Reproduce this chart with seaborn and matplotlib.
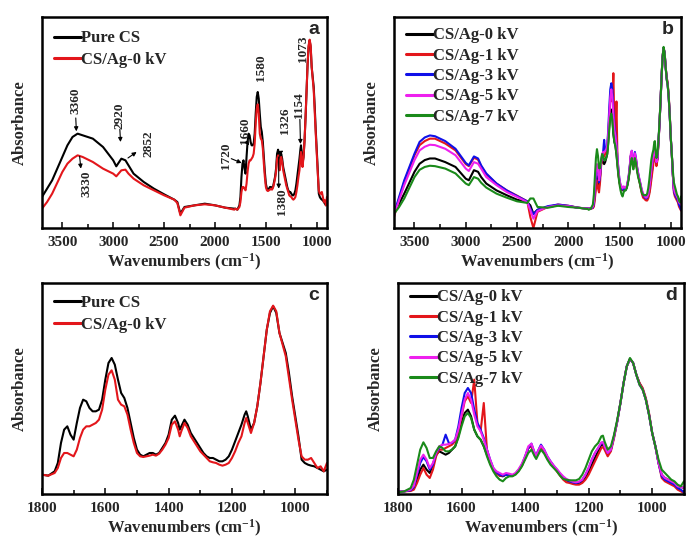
import matplotlib
matplotlib.use("Agg")
import matplotlib.pyplot as plt
import pandas as pd
import seaborn as sns
from matplotlib.ticker import MultipleLocator, NullLocator

# ---------------- data (arbitrary absorbance units) ----------------
HI_WN = [3700, 3650, 3600, 3500, 3450, 3400, 3350, 3300, 3200, 3100, 3000, 2970, 2920,
         2880, 2850, 2800, 2700, 2600, 2500, 2400, 2370, 2340, 2300, 2200, 2100, 2000,
         1900, 1810]
FP_WN = [1800, 1780, 1760, 1750, 1740, 1730, 1720, 1710, 1700, 1690, 1680, 1670, 1660,
         1650, 1640, 1630, 1620, 1610, 1600, 1590, 1580, 1570, 1560, 1550, 1540, 1530,
         1520, 1510, 1500, 1490, 1480, 1470, 1460, 1450, 1440, 1430, 1420, 1410, 1400,
         1390, 1380, 1370, 1365, 1360, 1350, 1340, 1330, 1320, 1310, 1300, 1290, 1280,
         1270, 1260, 1250, 1240, 1230, 1220, 1210, 1200, 1190, 1180, 1170, 1160, 1155,
         1150, 1140, 1130, 1120, 1110, 1100, 1090, 1080, 1070, 1060, 1050, 1040, 1030,
         1020, 1010, 1000, 990, 980, 970, 960, 950, 940, 930, 920, 910, 900]

# panels a / c
PURE_CS_HI = [93, 118, 143, 213, 248, 273, 283, 278, 268, 243, 203, 185, 208, 203, 188,
              163, 138, 118, 101, 85, 78, 43, 63, 68, 73, 68, 61, 58]
PURE_CS_FP = [58, 55, 68, 93, 153, 193, 203, 178, 163, 213, 258, 283, 278, 258, 248, 248,
              253, 283, 343, 393, 408, 388, 343, 303, 288, 258, 213, 168, 133, 118, 113,
              118, 123, 123, 118, 123, 138, 153, 178, 223, 235, 213, 193, 203, 223, 208,
              183, 168, 153, 138, 123, 113, 108, 108, 103, 98, 98, 103, 113, 133, 158,
              183, 208, 238, 248, 233, 193, 213, 263, 333, 413, 493, 543, 563, 543, 483,
              453, 423, 363, 293, 233, 173, 103, 93, 88, 85, 83, 78, 73, 68, 73]
AG0_A_HI = [58, 78, 103, 168, 193, 208, 218, 213, 198, 178, 163, 155, 173, 175, 163, 148,
            128, 113, 98, 85, 75, 38, 61, 68, 71, 68, 61, 55]
AG0_A_FP = [58, 55, 63, 78, 108, 123, 123, 118, 113, 133, 168, 193, 203, 203, 208, 213,
            223, 253, 313, 358, 371, 343, 283, 268, 263, 238, 193, 153, 123, 113, 111,
            113, 115, 118, 115, 121, 133, 148, 168, 208, 218, 193, 173, 188, 213, 198,
            173, 158, 143, 128, 118, 108, 98, 95, 93, 88, 85, 88, 93, 108, 128, 153,
            173, 213, 228, 213, 183, 213, 263, 333, 413, 493, 548, 565, 548, 483, 448,
            413, 348, 283, 223, 163, 113, 103, 103, 108, 93, 78, 83, 68, 93]

# panels b / d
AG0_HI = [0, 20, 45, 99, 119, 128, 132, 132, 123, 111, 82, 78, 103, 99, 86, 70, 53, 41,
          30, 24, 16, -5, 5, 12, 16, 14, 10, 8]
AG1_HI = [-13, 33, 74, 140, 165, 175, 181, 181, 169, 152, 118, 113, 134, 129, 113, 93,
          70, 53, 40, 26, -13, -40, 0, 12, 18, 15, 10, 8]
AG3_HI = [-5, 37, 78, 144, 173, 184, 189, 187, 175, 156, 121, 115, 137, 132, 115, 95, 70,
          53, 39, 26, 8, -6, 5, 14, 18, 15, 10, 8]
AG5_HI = [-9, 29, 66, 128, 152, 161, 166, 165, 156, 140, 107, 101, 123, 119, 107, 86, 66,
          49, 37, 24, 4, -17, 2, 12, 16, 14, 10, 8]
AG7_HI = [-5, 12, 33, 86, 104, 111, 114, 113, 107, 95, 70, 66, 86, 82, 72, 60, 45, 35,
          26, 22, 33, 33, 12, 10, 15, 12, 10, 7]

AG0_FP = [8, 8, 11, 18, 43, 73, 88, 73, 63, 88, 118, 128, 123, 118, 123, 133, 143, 173,
          213, 243, 253, 233, 193, 173, 163, 143, 118, 93, 73, 63, 55, 53, 58, 55, 55,
          61, 71, 85, 108, 138, 143, 118, 111, 123, 138, 128, 108, 93, 81, 71, 58, 48,
          41, 38, 35, 33, 33, 38, 48, 68, 88, 108, 128, 148, 148, 138, 118, 133, 173,
          218, 273, 333, 383, 405, 393, 358, 333, 315, 283, 238, 183, 143, 93, 58, 48,
          43, 38, 33, 23, 21, 18]
AG1_FP = [8, 8, 9, 13, 33, 58, 78, 58, 48, 73, 113, 133, 133, 138, 143, 148, 158, 188,
          233, 278, 293, 273, 343, 213, 188, 273, 133, 93, 73, 61, 55, 55, 58, 58, 55,
          61, 71, 85, 108, 138, 143, 118, 111, 123, 138, 128, 108, 93, 81, 68, 55, 43,
          35, 33, 30, 28, 28, 33, 43, 58, 78, 98, 118, 138, 141, 133, 113, 128, 168, 218,
          273, 333, 383, 405, 393, 358, 333, 318, 288, 243, 183, 143, 93, 48, 38, 33,
          28, 23, 13, 8, 3]
AG3_FP = [8, 8, 11, 21, 58, 93, 111, 98, 73, 88, 123, 138, 148, 178, 153, 153, 163, 203,
          258, 303, 318, 303, 253, 213, 193, 168, 133, 103, 78, 65, 58, 55, 58, 55, 55,
          61, 73, 88, 113, 138, 151, 123, 115, 128, 148, 133, 113, 98, 85, 73, 61, 50,
          43, 38, 35, 33, 35, 43, 58, 78, 103, 123, 138, 153, 155, 143, 123, 133, 173,
          218, 273, 333, 383, 405, 393, 358, 328, 313, 283, 238, 183, 143, 93, 53, 43,
          38, 33, 28, 18, 13, 5]
AG5_FP = [8, 8, 13, 25, 63, 103, 118, 103, 78, 93, 123, 143, 148, 148, 150, 155, 163,
          193, 238, 283, 303, 283, 238, 203, 188, 163, 133, 103, 78, 68, 63, 58, 63, 61,
          58, 63, 75, 91, 113, 143, 151, 123, 113, 128, 145, 133, 113, 98, 85, 75, 63,
          53, 45, 41, 37, 35, 37, 43, 58, 78, 103, 123, 138, 155, 155, 143, 123, 133,
          173, 218, 273, 333, 383, 405, 393, 358, 328, 313, 283, 238, 183, 143, 93, 58,
          48, 43, 38, 33, 23, 21, 18]
AG7_FP = [5, 8, 18, 43, 88, 133, 155, 138, 108, 108, 128, 143, 138, 128, 128, 133, 143,
          168, 203, 233, 243, 228, 193, 173, 163, 143, 113, 88, 68, 53, 43, 38, 48, 53,
          53, 58, 68, 83, 103, 123, 133, 113, 105, 115, 133, 121, 103, 88, 78, 68, 55,
          45, 43, 41, 41, 41, 45, 58, 78, 103, 128, 143, 153, 173, 175, 158, 133, 143,
          178, 223, 273, 333, 383, 408, 393, 358, 328, 313, 283, 238, 183, 143, 103, 73,
          63, 53, 43, 38, 28, 23, 38]

LABELS_AC = ["Pure CS", "CS/Ag-0 kV"]
LABELS_BD = ["CS/Ag-0 kV", "CS/Ag-1 kV", "CS/Ag-3 kV", "CS/Ag-5 kV", "CS/Ag-7 kV"]
COLORS_AC = ["#000000", "#e3161b"]
COLORS_BD = ["#000000", "#e3161b", "#1010e8", "#ee20ee", "#1a8a1a"]

# peak annotations of panel a: label, text position, arrow (tail, head) or None
PEAKS_A = [
    ("3360", (3372, 383), ((3368, 330), (3362, 290))),
    ("2920", (2935, 336), ((2935, 296), (2928, 258))),
    ("2852", (2650, 253), ((2855, 210), (2770, 228))),
    ("3330", (3262, 133), ((3330, 215), (3318, 178))),
    ("1720", (1890, 216), ((1840, 208), (1738, 195))),
    ("1660", (1702, 293), ((1688, 258), (1664, 248))),
    ("1580", (1546, 481), None),
    ("1326", (1316, 321), ((1368, 225), (1328, 232))),
    ("1380", (1346, 78), ((1374, 213), (1374, 118))),
    ("1154", (1170, 368), ((1166, 326), (1160, 252))),
    ("1073", (1137, 538), None),
]

# ---------------- style ----------------
sns.set_theme(style="ticks")
plt.rcParams["font.family"] = ["Liberation Serif", "DejaVu Serif"]
plt.rcParams["font.weight"] = "bold"
plt.rcParams["mathtext.fontset"] = "custom"
plt.rcParams["mathtext.rm"] = "Liberation Serif:bold"
plt.rcParams["mathtext.bf"] = "Liberation Serif:bold"
plt.rcParams["mathtext.it"] = "Liberation Serif:bold"

fig = plt.figure(figsize=(6.87, 5.39), dpi=100)
ax_a = fig.add_axes([0.0611, 0.577, 0.4148, 0.3915])
ax_b = fig.add_axes([0.5735, 0.577, 0.4178, 0.3915])
ax_c = fig.add_axes([0.0611, 0.0835, 0.4148, 0.3915])
ax_d = fig.add_axes([0.5793, 0.0835, 0.4163, 0.3915])


def draw(ax, wn, series, labels, colors):
    for vals, lab, col in zip(series, labels, colors):
        df = pd.DataFrame({"wn": wn, "A": vals})
        sns.lineplot(data=df, x="wn", y="A", color=col, label=lab, ax=ax,
                     sort=False, estimator=None, linewidth=1.5)


draw(ax_a, HI_WN + FP_WN, [PURE_CS_HI + PURE_CS_FP, AG0_A_HI + AG0_A_FP],
     LABELS_AC, COLORS_AC)
draw(ax_c, FP_WN, [PURE_CS_FP, AG0_A_FP], LABELS_AC, COLORS_AC)
draw(ax_b, HI_WN + FP_WN,
     [AG0_HI + AG0_FP, AG1_HI + AG1_FP, AG3_HI + AG3_FP, AG5_HI + AG5_FP, AG7_HI + AG7_FP],
     LABELS_BD, COLORS_BD)
draw(ax_d, FP_WN, [AG0_FP, AG1_FP, AG3_FP, AG5_FP, AG7_FP], LABELS_BD, COLORS_BD)

for ax, letter, wide in [(ax_a, "a", True), (ax_b, "b", True), (ax_c, "c", False),
                         (ax_d, "d", False)]:
    if wide:
        ax.set_xlim(3700, 900)
        ax.xaxis.set_major_locator(MultipleLocator(500))
        ax.xaxis.set_minor_locator(MultipleLocator(250))
    else:
        ax.set_xlim(1800, 900)
        ax.xaxis.set_major_locator(MultipleLocator(200))
        ax.xaxis.set_minor_locator(MultipleLocator(100))
    ax.yaxis.set_major_locator(NullLocator())
    ax.tick_params(axis="x", which="major", direction="in", length=4, width=1.3,
                   labelsize=11, pad=6, top=False)
    ax.tick_params(axis="x", which="minor", direction="in", length=3, width=1.3,
                   top=False)
    for lbl in ax.get_xticklabels():
        lbl.set_fontweight("bold")
    for sp in ax.spines.values():
        sp.set_visible(True)
        sp.set_linewidth(1.8)
        sp.set_color("black")
    ax.set_xlabel(r"Wavenumbers (cm$^{-1}$)", fontsize=12, fontweight="bold", labelpad=2)
    ax.set_ylabel("Absorbance", fontsize=12, fontweight="bold", labelpad=10)
    ax.text(0.955, 0.94, letter, transform=ax.transAxes, ha="center", va="center",
            fontsize=14, fontweight="bold", family=["Liberation Sans", "DejaVu Sans"])

ax_a.set_ylim(0, 633)
ax_c.set_ylim(0, 633)
ax_b.set_ylim(-40, 482)
ax_d.set_ylim(0, 633)

for ax, spacing, top in [(ax_a, 0.33, 0.952), (ax_c, 0.33, 0.958),
                         (ax_b, 0.26, 0.966), (ax_d, 0.26, 0.985)]:
    leg = ax.legend(loc="upper left", bbox_to_anchor=(0.03, top), frameon=False,
                    handlelength=1.6, handletextpad=0.0, labelspacing=spacing,
                    borderaxespad=0.0, borderpad=0.2,
                    prop={"family": "Liberation Serif", "weight": "bold", "size": 12})
    for h in leg.get_lines():
        h.set_linewidth(2.2)

for txt, pos, arrow in PEAKS_A:
    ax_a.text(pos[0], pos[1], txt, rotation=90, ha="center", va="center",
              fontsize=9.5, fontweight="bold")
    if arrow is not None:
        ax_a.annotate("", xy=arrow[1], xytext=arrow[0],
                      arrowprops=dict(arrowstyle="-|>", color="black", lw=0.8,
                                      mutation_scale=6, shrinkA=0, shrinkB=0))

fig.savefig("out.png", dpi=100)
